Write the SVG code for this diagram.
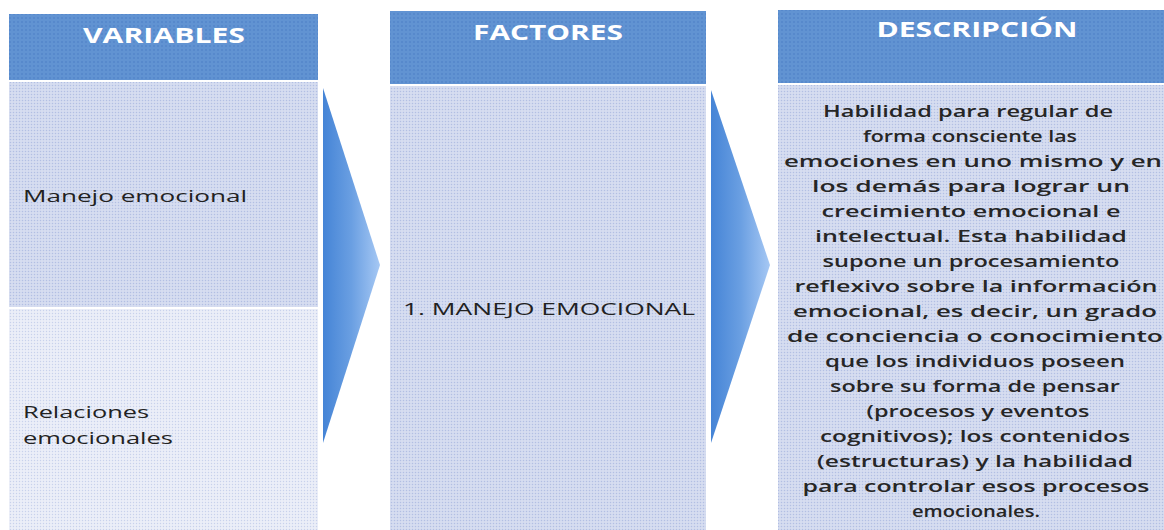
<svg xmlns="http://www.w3.org/2000/svg" width="1164" height="530" viewBox="0 0 1164 530">
  <defs>
    <linearGradient id="chev" x1="0" y1="0" x2="1" y2="0">
      <stop offset="0" stop-color="#4584d6"/>
      <stop offset="0.5" stop-color="#6a9fe2"/>
      <stop offset="1" stop-color="#a6c8f4"/>
    </linearGradient>
    <pattern id="dotsH" width="4" height="4" patternUnits="userSpaceOnUse">
      <rect width="4" height="4" fill="#6193d2"/>
      <circle cx="2" cy="2" r="0.8" fill="#4a7cc4"/>
    </pattern>
    <pattern id="dotsB" width="3" height="3" patternUnits="userSpaceOnUse">
      <rect width="3" height="3" fill="#d6ddf0"/>
      <circle cx="1.5" cy="1.5" r="0.75" fill="#b2bfe3"/>
    </pattern>
    <pattern id="dotsL" width="3" height="3" patternUnits="userSpaceOnUse">
      <rect width="3" height="3" fill="#ebeef8"/>
      <circle cx="1.5" cy="1.5" r="0.7" fill="#c8d1ec"/>
    </pattern>
  </defs>
  <style>
    .hdr { fill: url(#dotsH); }
    .body { fill: url(#dotsB); }
    .light { fill: url(#dotsL); }
    .chev { fill: url(#chev); }
    .title { font-family: "Open Sans", "Liberation Sans", sans-serif; font-weight: bold; font-size: 21px; fill: #ffffff; text-anchor: middle; }
    .lbl { font-family: "Open Sans", "Liberation Sans", sans-serif; font-size: 16px; fill: #222222; }
    .desc { font-family: "Open Sans", "Liberation Sans", sans-serif; font-weight: 600; font-size: 16.5px; fill: #262626; text-anchor: middle; }
  </style>
  <rect width="1164" height="530" fill="#ffffff"/>

  <g id="col-variables">
    <rect class="hdr" x="9" y="14" width="309" height="66"/>
    <text class="title" x="164" y="43" textLength="162" lengthAdjust="spacingAndGlyphs">VARIABLES</text>
  </g>
  <g id="var-manejo">
    <rect class="body" x="9" y="82" width="309" height="225"/>
    <text class="lbl" x="23" y="202" textLength="224" lengthAdjust="spacingAndGlyphs">Manejo emocional</text>
  </g>
  <g id="var-relaciones">
    <rect class="light" x="9" y="309" width="309" height="221"/>
    <text class="lbl" x="23" y="418" textLength="126" lengthAdjust="spacingAndGlyphs">Relaciones</text>
    <text class="lbl" x="23" y="444" textLength="150" lengthAdjust="spacingAndGlyphs">emocionales</text>
  </g>

  <g id="col-factores">
    <rect class="hdr" x="390" y="11" width="316" height="73"/>
    <text class="title" x="548" y="40" textLength="150" lengthAdjust="spacingAndGlyphs">FACTORES</text>
  </g>
  <g id="fac-manejo">
    <rect class="body" x="390" y="86" width="316" height="444"/>
    <text class="lbl" x="403" y="315" textLength="292" lengthAdjust="spacingAndGlyphs">1. MANEJO EMOCIONAL</text>
  </g>

  <g id="col-descripcion">
    <rect class="hdr" x="778" y="10" width="386" height="73"/>
    <text class="title" x="977" y="37" textLength="201" lengthAdjust="spacingAndGlyphs">DESCRIPCIÓN</text>
  </g>
  <g id="desc-manejo">
    <rect class="body" x="778" y="85" width="386" height="445"/>
    <text class="desc" x="968" y="117" textLength="290" lengthAdjust="spacingAndGlyphs">Habilidad para regular de</text>
    <text class="desc" x="970" y="142" textLength="214" lengthAdjust="spacingAndGlyphs">forma consciente las</text>
    <text class="desc" x="973" y="167" textLength="378" lengthAdjust="spacingAndGlyphs">emociones en uno mismo y en</text>
    <text class="desc" x="971" y="192" textLength="318" lengthAdjust="spacingAndGlyphs">los demás para lograr un</text>
    <text class="desc" x="971" y="217" textLength="299" lengthAdjust="spacingAndGlyphs">crecimiento emocional e</text>
    <text class="desc" x="971" y="242" textLength="312" lengthAdjust="spacingAndGlyphs">intelectual. Esta habilidad</text>
    <text class="desc" x="971" y="267" textLength="297" lengthAdjust="spacingAndGlyphs">supone un procesamiento</text>
    <text class="desc" x="976" y="292" textLength="363" lengthAdjust="spacingAndGlyphs">reflexivo sobre la información</text>
    <text class="desc" x="975" y="317" textLength="364" lengthAdjust="spacingAndGlyphs">emocional, es decir, un grado</text>
    <text class="desc" x="975" y="342" textLength="376" lengthAdjust="spacingAndGlyphs">de conciencia o conocimiento</text>
    <text class="desc" x="975" y="367" textLength="300" lengthAdjust="spacingAndGlyphs">que los individuos poseen</text>
    <text class="desc" x="975" y="392" textLength="290" lengthAdjust="spacingAndGlyphs">sobre su forma de pensar</text>
    <text class="desc" x="978" y="417" textLength="223" lengthAdjust="spacingAndGlyphs">(procesos y eventos</text>
    <text class="desc" x="975" y="442" textLength="310" lengthAdjust="spacingAndGlyphs">cognitivos); los contenidos</text>
    <text class="desc" x="975" y="467" textLength="316" lengthAdjust="spacingAndGlyphs">(estructuras) y la habilidad</text>
    <text class="desc" x="976" y="492" textLength="347" lengthAdjust="spacingAndGlyphs">para controlar esos procesos</text>
    <text class="desc" x="976" y="517" textLength="128" lengthAdjust="spacingAndGlyphs">emocionales.</text>
  </g>

  <g id="connectors">
    <polygon class="chev" points="323,88 380,265 323,443"/>
    <polygon class="chev" points="711,90 770,265 711,443"/>
  </g>
</svg>
